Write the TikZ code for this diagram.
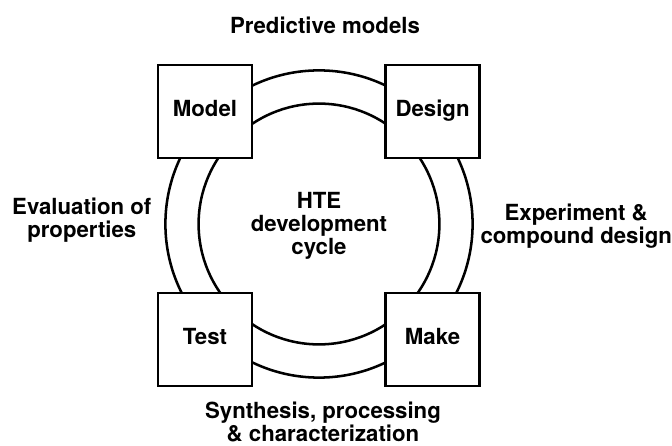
\documentclass[tikz,border=0pt]{standalone}
\usepackage{fontspec}
\setmainfont{TeX Gyre Heros}
\begin{document}
\begin{tikzpicture}[
    font=\fontsize{15.8}{16.4}\selectfont\bfseries,
    ring/.style={line width=1.8pt},
    stagebox/.style={draw, fill=white, line width=1.8pt, minimum width=2.35cm, minimum height=2.33cm,
      text height=0.72em, text depth=0pt},
    caption/.style={align=center}]
  \useasboundingbox (-7.975, -5.55) rectangle (8.825, 5.6);
  % the two rings of the cycle
  \draw [ring] (0, 0) circle (3.84);
  \draw [ring] (0, 0) circle (3.01);
  \node [caption] (hte) at (0, -0.05) {HTE\\development\\cycle};
  % stages
  \node [stagebox] (model) at (-2.85, 2.81) {Model};
  \node [stagebox] (design) at (2.84, 2.81) {Design};
  \node [stagebox] (make) at (2.84, -2.89) {Make};
  \node [stagebox] (test) at (-2.85, -2.89) {Test};
  % labels round the cycle
  \node [caption] (predictive) at (0.15, 4.97) {Predictive models};
  \node [caption] (experiment) at (6.43, -0.05) {Experiment \&\\compound design};
  \node [caption] (synthesis) at (0.1, -4.95) {Synthesis, processing\\\& characterization};
  \node [caption] (evaluation) at (-5.93, 0.1) {Evaluation of\\properties};
\end{tikzpicture}
\end{document}
